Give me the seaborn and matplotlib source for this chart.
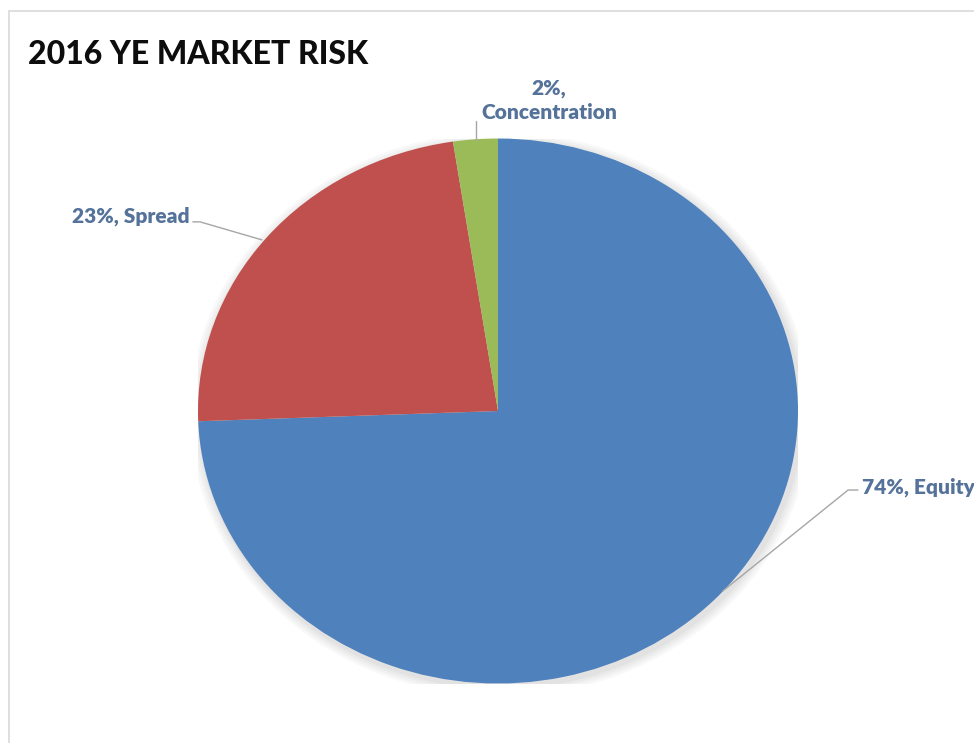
import matplotlib
matplotlib.use("Agg")
import matplotlib.pyplot as plt
from matplotlib.patches import Ellipse, Rectangle
import seaborn as sns

# Market risk split at year-end 2016 (share of total, %)
categories = ["Equity", "Spread", "Concentration"]
shares = [74.4, 23.2, 2.4]
colors = ["#4F81BD", "#C0504D", "#9BBB59"]

sns.set_theme(style="white")
plt.rcParams["font.family"] = ["Lato", "DejaVu Sans"]

W, H = 974, 743
fig = plt.figure(figsize=(W / 100, H / 100), dpi=100)
fig.patch.set_facecolor("white")

# thin chart-area frame
fig.patches.append(Rectangle((9 / W, -0.05), 1.2, (H - 11) / H + 0.05,
                             transform=fig.transFigure, fill=False,
                             edgecolor="#D9D9D9", linewidth=1.2, zorder=0))

# pie axes: ellipse centred at (498, 411), radii 300 x 272.5 px
cx, cy, rx, ry = 498, 411, 300, 272.5
ax = fig.add_axes([(cx - rx) / W, (H - cy - ry) / H, 2 * rx / W, 2 * ry / H])
ax.set_axis_off()

# soft drop shadow behind the pie
for i, a in enumerate([0.05, 0.05, 0.06, 0.07]):
    grow = 0.035 - i * 0.009
    ax.add_patch(Ellipse((0.008, -0.012), 2 + 2 * grow, 2 + 2 * grow,
                         facecolor="#7F7F7F", edgecolor="none", alpha=a, zorder=0))

wedges, _ = ax.pie(shares, colors=colors, startangle=90, counterclock=False,
                   radius=1, wedgeprops=dict(edgecolor="none", linewidth=0))
for w in wedges:
    w.set_zorder(2)
ax.set_aspect("auto")
ax.set_xlim(-1, 1)
ax.set_ylim(-1, 1)

label_color = "#55729A"
line_color = "#A6A6A6"
label_kw = dict(color=label_color, fontsize=15, fontweight=800, clip_on=False)
labels = [f"{s:.0f}%, {c}" for s, c in zip(shares, categories)]

# Equity label (right)
ax.plot([0.75, 1.167, 1.20], [-0.66, -0.29, -0.29], color=line_color, lw=1,
        clip_on=False, zorder=3)
ax.text(1.213, -0.279, labels[0], ha="left", va="center", **label_kw)

# Spread label (upper left)
ax.plot([-0.787, -0.993, -1.017], [0.628, 0.694, 0.694], color=line_color, lw=1,
        clip_on=False, zorder=3)
ax.text(-1.027, 0.716, labels[1], ha="right", va="center", **label_kw)

# Concentration label (top)
ax.plot([-0.073, -0.073], [0.994, 1.064], color=line_color, lw=1,
        clip_on=False, zorder=3)
ax.text(0.17, 1.14, labels[2].replace(" ", "\n"), ha="center", va="center",
        linespacing=1.3, **label_kw)

fig.text(28 / W, 1 - 54 / H, "2016 YE MARKET RISK", fontsize=23, fontweight=900,
         color="#0D0D0D", ha="left", va="center")

fig.savefig("out.png", dpi=100, facecolor="white")
